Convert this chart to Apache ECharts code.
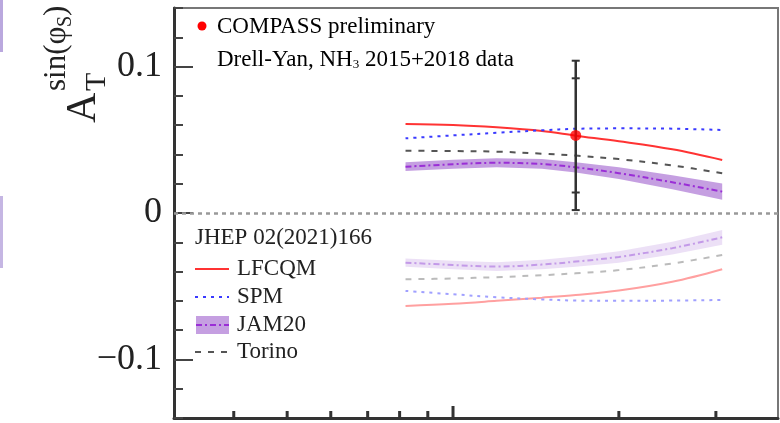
<!DOCTYPE html>
<html><head><meta charset="utf-8">
<script src="https://cdn.jsdelivr.net/npm/echarts@6/dist/echarts.min.js"></script>
<style>html,body{margin:0;padding:0;background:#fff}#c{width:780px;height:423px}</style>
</head><body><div id="c"></div>
<script>
const xValues = [0.82, 1.0, 1.2, 1.45, 1.67, 2.0, 2.5, 3.08];
const lfcqmUpper = [0.0608, 0.0601, 0.0585, 0.0560, 0.0528, 0.0490, 0.0435, 0.0362];
const lfcqmLower = [-0.0635, -0.0620, -0.0600, -0.0578, -0.0560, -0.0530, -0.0470, -0.0384];
const spmUpper = [0.0510, 0.0530, 0.0548, 0.0565, 0.0575, 0.0578, 0.0576, 0.0567];
const spmLower = [-0.0532, -0.0555, -0.0575, -0.0590, -0.0598, -0.0600, -0.0598, -0.0594];
const torinoUpper = [0.0425, 0.0423, 0.0419, 0.0405, 0.0392, 0.0368, 0.0325, 0.0271];
const torinoLower = [-0.0453, -0.0447, -0.0438, -0.0425, -0.0412, -0.0390, -0.0345, -0.0287];
const jamUpper = [0.0316, 0.0333, 0.0343, 0.0335, 0.0312, 0.0272, 0.0210, 0.0146];
const jamUpperErr = [0.0030, 0.0030, 0.0031, 0.0033, 0.0035, 0.0040, 0.0047, 0.0055];
const jamLower = [-0.0339, -0.0355, -0.0366, -0.0352, -0.0332, -0.0300, -0.0240, -0.0166];
const jamLowerErr = [0.0028, 0.0029, 0.0030, 0.0032, 0.0035, 0.0039, 0.0044, 0.0050];
const compassX = [1.67];
const compassY = [0.053];
const compassErr = [0.051];
const compassInner = [0.039];
const yTickLabels = [-0.1, 0, 0.1];
const xMinorTicks = [0.4, 0.5, 0.6, 0.7, 0.8, 0.9, 2, 3];
const xMajorTicks = [1];

const FONT = 'Liberation Serif';
const X_MIN = 0.3116, X_MAX = 3.889, Y_MIN = -0.14, Y_MAX = 0.14;

const pts = ys => xValues.map((x, i) => [x, ys[i]]);

function lineSeries(name, ys, color, type, width) {
  return {
    name, type: 'line', data: pts(ys), smooth: 0.35, symbol: 'none', silent: true,
    lineStyle: { color, width: width || 2, type: type || 'solid' }, z: 3
  };
}

function bandSeries(center, err, fill) {
  return {
    type: 'custom', silent: true, z: 2, clip: true,
    data: xValues.map((x, i) => [x, center[i], err[i]]),
    renderItem(params, api) {
      if (params.dataIndex !== 0) return null;
      const up = [], lo = [];
      for (let i = 0; i < xValues.length; i++) {
        up.push(api.coord([xValues[i], center[i] + err[i]]));
        lo.push(api.coord([xValues[i], center[i] - err[i]]));
      }
      return { type: 'polygon', shape: { points: up.concat(lo.reverse()) }, style: { fill } };
    }
  };
}

// x-axis tick marks: rect symbols placed at tick values on the log axis
function tickSeries(values, len) {
  return {
    type: 'scatter', silent: true, z: 8, clip: false,
    data: values.map(v => [v, Y_MIN]),
    symbol: 'rect', symbolSize: [3, len], symbolOffset: [0, -len / 2],
    itemStyle: { color: '#333', opacity: 1 },
    emphasis: { disabled: true }
  };
}

const chart = echarts.init(document.getElementById('c'), null, { renderer: 'canvas' });

const yAxisBase = {
  type: 'value', min: Y_MIN, max: Y_MAX, interval: 0.02, position: 'left',
  splitLine: { show: false }
};

const option = {
  animation: false,
  backgroundColor: '#fff',
  grid: { left: 174, right: 2, top: 8, bottom: 5, show: true, borderColor: '#777', borderWidth: 2, backgroundColor: 'transparent' },
  xAxis: {
    type: 'log', logBase: 10, min: X_MIN, max: X_MAX, position: 'bottom',
    splitLine: { show: false }, minorTick: { show: false },
    axisLine: { show: true, onZero: false, lineStyle: { color: '#333', width: 3 } },
    axisTick: { show: false },
    axisLabel: { show: false }
  },
  yAxis: [
    Object.assign({}, yAxisBase, {
      axisLine: { show: true, onZero: false, lineStyle: { color: '#333', width: 3 } },
      axisTick: { show: true, inside: true, length: 9, lineStyle: { color: '#444', width: 2 } },
      axisLabel: { show: false }
    }),
    Object.assign({}, yAxisBase, {
      axisLine: { show: false, onZero: false },
      axisTick: { show: true, inside: true, length: 19, customValues: yTickLabels, lineStyle: { color: '#444', width: 2 } },
      axisLabel: {
        show: true, customValues: yTickLabels, margin: 12,
        fontFamily: FONT, fontSize: 36, color: '#222',
        formatter: v => Math.abs(v) < 1e-9 ? '0' : (v < 0 ? '\u2212' : '') + Math.abs(v).toFixed(1)
      }
    })
  ],
  series: [
    {
      type: 'line', data: [], silent: true,
      markLine: {
        silent: true, symbol: 'none', label: { show: false },
        lineStyle: { color: '#999', width: 2.5, type: [4, 4] },
        data: [{ yAxis: 0 }]
      }
    },
    tickSeries(xMinorTicks, 7),
    tickSeries(xMajorTicks, 12),
    bandSeries(jamUpper, jamUpperErr, 'rgba(150,80,200,0.55)'),
    bandSeries(jamLower, jamLowerErr, 'rgba(160,100,210,0.2)'),
    lineSeries('LFCQM lower', lfcqmLower, '#ffa0a0', 'solid', 2),
    lineSeries('SPM lower', spmLower, '#a0a0ff', [3, 5], 2),
    lineSeries('Torino lower', torinoLower, '#bbbbbb', [6, 7], 2),
    lineSeries('JAM20 lower', jamLower, '#c39ae8', [6, 3, 2, 3], 2),
    lineSeries('LFCQM', lfcqmUpper, '#ff3333', 'solid', 2),
    lineSeries('SPM', spmUpper, '#3a3aff', [3, 5], 2),
    lineSeries('Torino', torinoUpper, '#555555', [6, 7], 2),
    lineSeries('JAM20', jamUpper, '#9a2ed6', [6, 3, 2, 3], 2),
    {
      type: 'custom', silent: true, z: 5,
      data: compassX.map((x, i) => [x, compassY[i], compassErr[i], compassInner[i]]),
      renderItem(params, api) {
        const x = api.value(0), y = api.value(1), e = api.value(2), s = api.value(3);
        const t = api.coord([x, y + e]), b = api.coord([x, y - e]);
        const it = api.coord([x, y + s]), ib = api.coord([x, y - s]);
        const cap = (p, w) => ({ type: 'line', shape: { x1: p[0] - w, y1: p[1], x2: p[0] + w, y2: p[1] }, style: { stroke: '#333', lineWidth: 2 } });
        return {
          type: 'group', children: [
            { type: 'line', shape: { x1: t[0], y1: t[1], x2: b[0], y2: b[1] }, style: { stroke: '#333', lineWidth: 2.5 } },
            cap(t, 4), cap(b, 4), cap(it, 4), cap(ib, 4)
          ]
        };
      }
    },
    {
      type: 'scatter', data: compassX.map((x, i) => [x, compassY[i]]), symbol: 'circle', symbolSize: 11,
      itemStyle: { color: '#ff0000' }, silent: true, z: 6
    }
  ],
  graphic: [
    { type: 'rect', shape: { x: 0, y: 0, width: 3, height: 52 }, style: { fill: 'rgba(140,110,200,0.6)' }, silent: true },
    { type: 'rect', shape: { x: 0, y: 196, width: 3, height: 72 }, style: { fill: 'rgba(140,110,200,0.5)' }, silent: true },
    { type: 'text', x: 84, y: 123, rotation: Math.PI / 2, style: { text: 'A', font: '42px "' + FONT + '"', fill: '#222', align: 'left', verticalAlign: 'middle' }, silent: true },
    { type: 'text', x: 97, y: 91, rotation: Math.PI / 2, style: { text: 'T', font: '30px "' + FONT + '"', fill: '#222', align: 'left', verticalAlign: 'middle' }, silent: true },
    { type: 'text', x: 57, y: 91, rotation: Math.PI / 2, style: { text: 'sin(\u03c6', font: '31px "' + FONT + '"', fill: '#222', align: 'left', verticalAlign: 'middle' }, silent: true },
    { type: 'text', x: 66, y: 27, rotation: Math.PI / 2, style: { text: 'S', font: '20px "' + FONT + '"', fill: '#222', align: 'left', verticalAlign: 'middle' }, silent: true },
    { type: 'text', x: 57, y: 16, rotation: Math.PI / 2, style: { text: ')', font: '31px "' + FONT + '"', fill: '#222', align: 'left', verticalAlign: 'middle' }, silent: true },
    { type: 'circle', shape: { cx: 202, cy: 26, r: 4.5 }, style: { fill: '#ff0000' }, silent: true },
    {
      type: 'text', x: 217, y: 27, silent: true,
      style: {
        text: '{a|COMPASS }{b|preliminary}', align: 'left', verticalAlign: 'middle',
        rich: {
          a: { fontFamily: FONT, fontSize: 23, color: '#222' },
          b: { fontFamily: FONT, fontSize: 23, color: '#4444ff' }
        }
      }
    },
    {
      type: 'text', x: 217, y: 60, silent: true,
      style: {
        text: '{a|Drell-Yan, NH}{s|3}{a| 2015+2018 data}', align: 'left', verticalAlign: 'middle',
        rich: {
          a: { fontFamily: FONT, fontSize: 23, color: '#222', lineHeight: 23 },
          s: { fontFamily: FONT, fontSize: 13, color: '#222', lineHeight: 2, verticalAlign: 'bottom' }
        }
      }
    },
    { type: 'text', x: 195, y: 238, silent: true, style: { text: 'JHEP 02(2021)166', font: '23px "' + FONT + '"', fill: '#222', align: 'left', verticalAlign: 'middle' } },
    { type: 'line', shape: { x1: 195, y1: 269, x2: 229, y2: 269 }, style: { stroke: '#ff3333', lineWidth: 2 }, silent: true },
    { type: 'text', x: 237, y: 269, silent: true, style: { text: 'LFCQM', font: '23px "' + FONT + '"', fill: '#222', align: 'left', verticalAlign: 'middle' } },
    { type: 'line', shape: { x1: 195, y1: 297, x2: 229, y2: 297 }, style: { stroke: '#3a3aff', lineWidth: 2, lineDash: [3, 5] }, silent: true },
    { type: 'text', x: 237, y: 297, silent: true, style: { text: 'SPM', font: '23px "' + FONT + '"', fill: '#222', align: 'left', verticalAlign: 'middle' } },
    { type: 'rect', shape: { x: 196, y: 316, width: 33, height: 18 }, style: { fill: 'rgba(150,80,200,0.55)' }, silent: true },
    { type: 'line', shape: { x1: 196, y1: 325, x2: 229, y2: 325 }, style: { stroke: '#9a2ed6', lineWidth: 2, lineDash: [6, 3, 2, 3] }, silent: true },
    { type: 'text', x: 237, y: 325, silent: true, style: { text: 'JAM20', font: '23px "' + FONT + '"', fill: '#222', align: 'left', verticalAlign: 'middle' } },
    { type: 'line', shape: { x1: 195, y1: 352, x2: 229, y2: 352 }, style: { stroke: '#555555', lineWidth: 2, lineDash: [6, 7] }, silent: true },
    { type: 'text', x: 237, y: 352, silent: true, style: { text: 'Torino', font: '23px "' + FONT + '"', fill: '#222', align: 'left', verticalAlign: 'middle' } }
  ]
};
chart.setOption(option);
</script>
</body></html>
